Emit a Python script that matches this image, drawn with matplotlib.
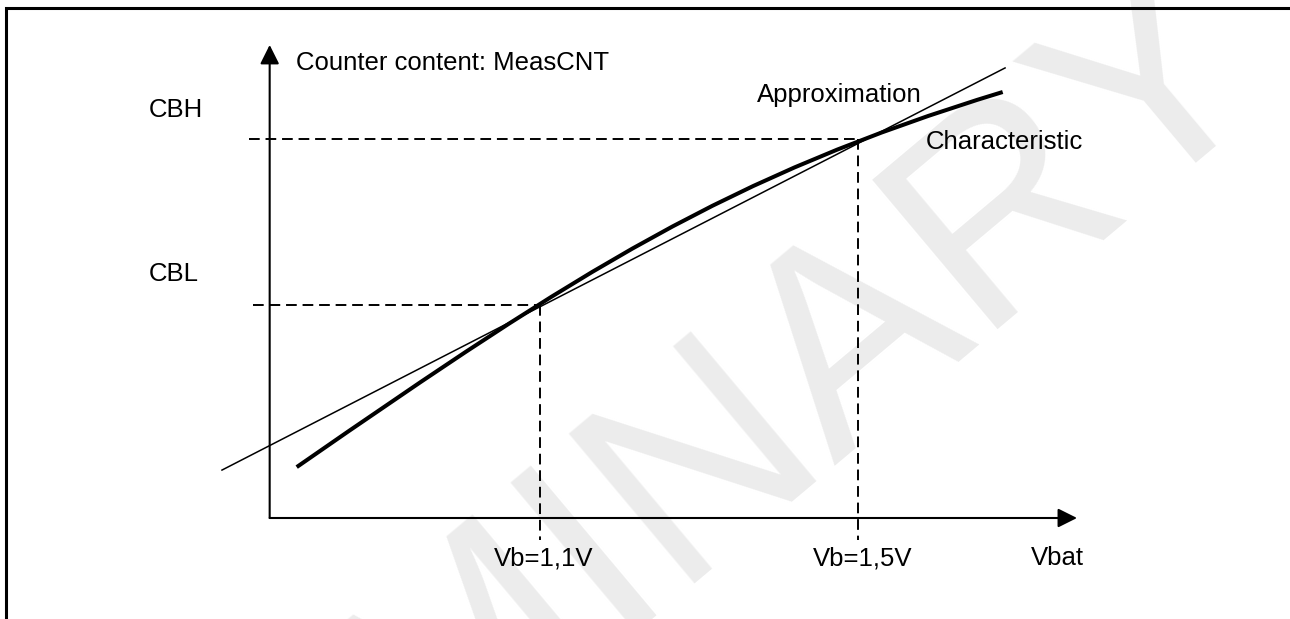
import matplotlib
matplotlib.use('Agg')
import matplotlib.pyplot as plt
from matplotlib.patches import Rectangle, PathPatch
from matplotlib.path import Path

plt.rcParams['font.family'] = ['Liberation Sans', 'DejaVu Sans']

# Battery voltage (V) and counter content (MeasCNT)
vb_low = 1.1
vb_high = 1.5
cbl = 1000
cbh = 1780

# characteristic curve: start, two bezier handles, end (as drawn)
char_v = [0.794, 1.150, 1.335, 1.682]
char_cnt = [239, 1160, 1606, 2000]

# straight-line approximation (end points)
approx_v = [0.70, 1.685]
approx_cnt = [225, 2113]

# axes origin and arrow ends
origin_v = 0.76
origin_cnt = 0
x_end = 1.7755
y_end = 2221

fig = plt.figure(figsize=(12.9, 6.19), dpi=100)
ax = fig.add_axes([0, 0, 1, 1])
ax.set_xlim(0.4208, 2.0434)
ax.set_ylim(-474.2, 2432)
ax.axis('off')

# watermark
ax.text(1.0371, -572, 'PRELIMINARY', rotation=40, fontsize=205, color='#ececec',
        ha='center', va='center', zorder=0, clip_on=False)

# outer frame (continues past right and bottom edge)
fig.patches.append(Rectangle((6 / 1290, -0.2), 1.2, 1.2 - 8 / 619,
                             transform=fig.transFigure, fill=False,
                             lw=2.2, ec='black', zorder=1))

# axes with arrow heads
arrow = dict(arrowstyle='-|>,head_length=0.4,head_width=0.2', lw=1.5,
             color='black', mutation_scale=29, shrinkA=0, shrinkB=0)
ax.annotate('', xy=(x_end, origin_cnt), xytext=(origin_v, origin_cnt), arrowprops=arrow)
ax.annotate('', xy=(origin_v, y_end), xytext=(origin_v, origin_cnt), arrowprops=arrow)

# dashed guide lines
dash = dict(color='black', lw=1.4, linestyle=(0, (5.5, 3)))
ax.plot([0.734, vb_high], [cbh, cbh], **dash)
ax.plot([0.739, vb_low], [cbl, cbl], **dash)
ax.plot([vb_low, vb_low], [cbl, -103], **dash)
ax.plot([vb_high, vb_high], [cbh, -103], **dash)

# curves
ax.plot(approx_v, approx_cnt, color='black', lw=1.1)
char_path = Path(list(zip(char_v, char_cnt)),
                 [Path.MOVETO, Path.CURVE4, Path.CURVE4, Path.CURVE4])
ax.add_patch(PathPatch(char_path, fill=False, ec='black', lw=2.9, capstyle='butt'))

fs = 18.5
ax.text(0.793, 2103, 'Counter content: MeasCNT', fontsize=fs, va='baseline')
ax.text(0.608, 1883, 'CBH', fontsize=fs, va='baseline')
ax.text(0.608, 1113, 'CBL', fontsize=fs, va='baseline')
ax.text(1.373, 1953, 'Approximation', fontsize=fs, va='baseline')
ax.text(1.5855, 1732, 'Characteristic', fontsize=fs, va='baseline')
ax.text(1.104, -221, 'Vb=1,1V', fontsize=fs, va='baseline', ha='center')
ax.text(1.506, -221, 'Vb=1,5V', fontsize=fs, va='baseline', ha='center')
ax.text(1.7176, -221, 'Vbat', fontsize=fs, va='baseline')

fig.savefig('out.png', dpi=100)
